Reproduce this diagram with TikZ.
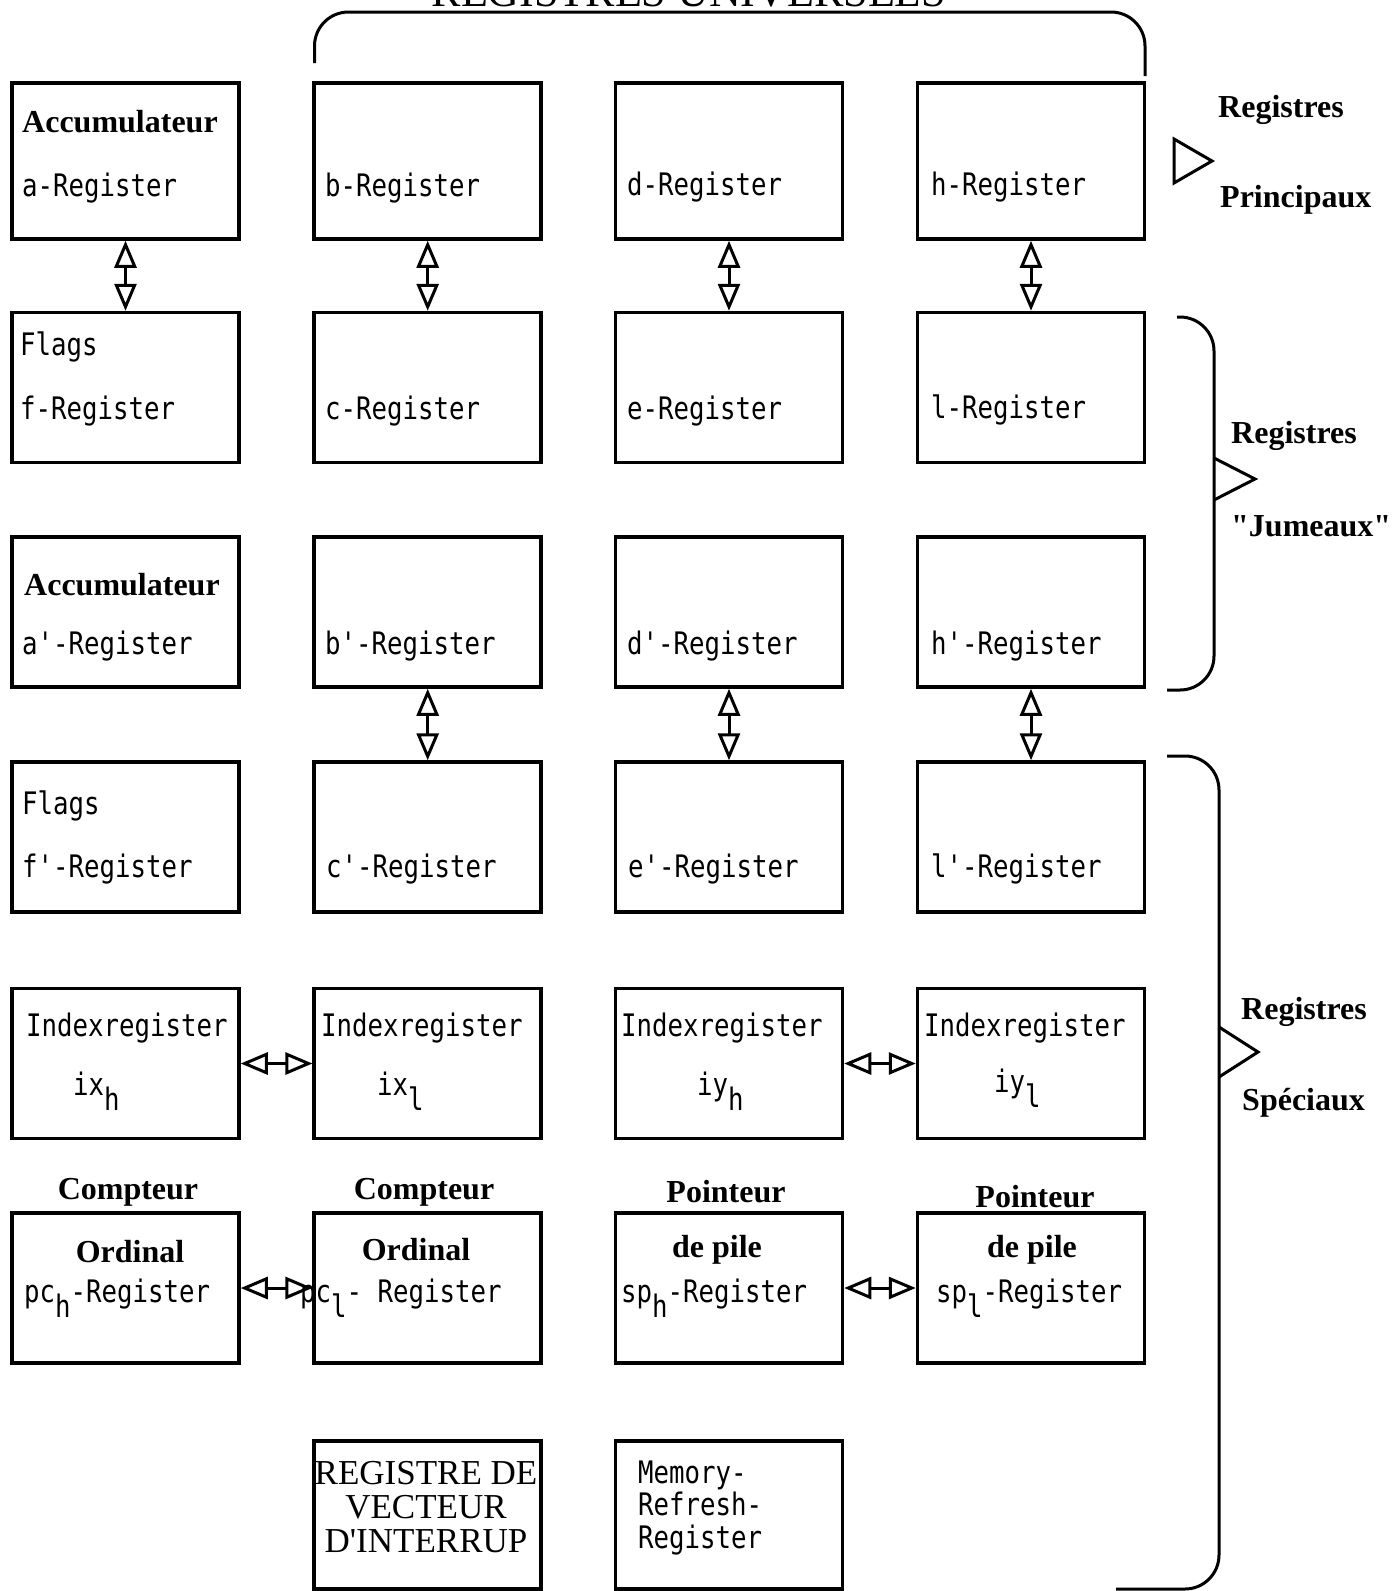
\documentclass[tikz,border=0pt]{standalone}
\usepackage{fontspec}
\setmainfont{Liberation Serif}[Ligatures=TeXOff]
\newfontfamily\regmono[FakeStretch=0.83]{DejaVu Sans Mono}
\usetikzlibrary{arrows.meta}
\newcommand{\lowr}[1]{\raisebox{-0.5em}{#1}}
\tikzset{
  rbox/.style={draw, line width=3.5pt, minimum width=227pt, minimum height=150pt, inner sep=0pt},
  mtxt/.style={anchor=west, inner sep=0pt, font=\regmono\fontsize{31}{33}\selectfont},
  btxt/.style={inner sep=0pt, font=\fontsize{32}{36}\selectfont\bfseries},
  stxt/.style={inner sep=0pt, align=center, font=\fontsize{35}{34}\selectfont},
  ttl/.style={anchor=base, inner sep=0pt, font=\fontsize{44}{46}\selectfont},
  dbl/.style={{Triangle[open, length=27pt, width=22pt]}-{Triangle[open, length=27pt, width=22pt]}, line width=3pt},
  brc/.style={line width=3pt, rounded corners=34pt},
  tip/.style={line width=3pt, line join=miter},
}
\begin{document}
\begin{tikzpicture}[x=1pt, y=-1pt]
\useasboundingbox (0,0) rectangle (1396,1591);
% registres universels
\node[ttl] (titre) at (689,6) {REGISTRES UNIVERSELS};
\draw[brc] (314.5,63) |- (1145,12) -- (1145,76);
% principaux
\node[rbox, minimum height=156pt] (acc) at (125.5,161) {};
\node[rbox, minimum height=156pt] (breg) at (427.7,161) {};
\node[rbox, minimum height=156pt] (dreg) at (729,161) {};
\node[rbox, minimum height=156pt] (hreg) at (1031,161) {};
\node[btxt, anchor=west] (t-acc) at (22,122) {Accumulateur};
\node[mtxt] (t-a) at (22,188) {a-Register};
\node[mtxt] (t-b) at (325,188) {b-Register};
\node[mtxt] (t-d) at (627,187) {d-Register};
\node[mtxt] (t-h) at (931,187) {h-Register};
\node[rbox] (flg) at (125.5,387.5) {};
\node[rbox] (creg) at (427.7,387.5) {};
\node[rbox] (ereg) at (729,387.5) {};
\node[rbox] (lreg) at (1031,387.5) {};
\node[mtxt] (t-flg) at (20,347) {Flags};
\node[mtxt] (t-f) at (20,411) {f-Register};
\node[mtxt] (t-c) at (325,411) {c-Register};
\node[mtxt] (t-e) at (627,411) {e-Register};
\node[mtxt] (t-l) at (931,410) {l-Register};
\draw[dbl] (acc.south) -- (flg.north);
\draw[dbl] (breg.south) -- (creg.north);
\draw[dbl] (dreg.south) -- (ereg.north);
\draw[dbl] (hreg.south) -- (lreg.north);
\draw[tip] (1174,139) -- (1212,161) -- (1174,183) -- cycle;
\node[btxt, anchor=west] (l-reg1) at (1218,110) {Registres};
\node[btxt, anchor=west] (l-princ) at (1220,200) {Principaux};
% jumeaux
\node[rbox] (accp) at (125.5,612) {};
\node[rbox] (bpreg) at (427.7,612) {};
\node[rbox] (dpreg) at (729,612) {};
\node[rbox] (hpreg) at (1031,612) {};
\node[btxt, anchor=west] (t-accp) at (24,585) {Accumulateur};
\node[mtxt] (t-ap) at (22,646) {a'-Register};
\node[mtxt] (t-bp) at (325,646) {b'-Register};
\node[mtxt] (t-dp) at (627,646) {d'-Register};
\node[mtxt] (t-hp) at (931,646) {h'-Register};
\node[rbox] (flgp) at (125.5,837) {};
\node[rbox] (cpreg) at (427.7,837) {};
\node[rbox] (epreg) at (729,837) {};
\node[rbox] (lpreg) at (1031,837) {};
\node[mtxt] (t-flgp) at (22,806) {Flags};
\node[mtxt] (t-fp) at (22,869) {f'-Register};
\node[mtxt] (t-cp) at (326,869) {c'-Register};
\node[mtxt] (t-ep) at (628,869) {e'-Register};
\node[mtxt] (t-lp) at (931,869) {l'-Register};
\draw[dbl] (bpreg.south) -- (cpreg.north);
\draw[dbl] (dpreg.south) -- (epreg.north);
\draw[dbl] (hpreg.south) -- (lpreg.north);
\draw[brc] (1177,317) -| (1214,480) |- (1167,690);
\draw[tip] (1214,458) -- (1255,479) -- (1214,500);
\node[btxt, anchor=west] (l-reg2) at (1231,436) {Registres};
\node[btxt, anchor=west] (l-jum) at (1231,526) {"Jumeaux"};
% speciaux
\node[rbox] (ixh) at (125.5,1063.5) {};
\node[rbox] (ixl) at (427.7,1063.5) {};
\node[rbox] (iyh) at (729,1063.5) {};
\node[rbox] (iyl) at (1031,1063.5) {};
\node[mtxt] (t-ix1) at (26,1028) {Indexregister};
\node[mtxt] (t-ix2) at (321,1028) {Indexregister};
\node[mtxt] (t-iy1) at (621,1028) {Indexregister};
\node[mtxt] (t-iy2) at (924,1028) {Indexregister};
\node[mtxt] (t-ixh) at (73,1091) {ix\lowr{h}};
\node[mtxt] (t-ixl) at (377,1091) {ix\lowr{l}};
\node[mtxt] (t-iyh) at (697,1091) {iy\lowr{h}};
\node[mtxt] (t-iyl) at (994,1088) {iy\lowr{l}};
\draw[dbl] (ixh.east) -- (ixl.west);
\draw[dbl] (iyh.east) -- (iyl.west);
\node[rbox] (pch) at (125.5,1288) {};
\node[rbox] (pcl) at (427.7,1288) {};
\node[rbox] (sph) at (729,1288) {};
\node[rbox] (spl) at (1031,1288) {};
\node[btxt] (t-cpt1) at (128,1192) {Compteur};
\node[btxt] (t-cpt2) at (424,1192) {Compteur};
\node[btxt] (t-pnt1) at (726,1192) {Pointeur};
\node[btxt] (t-pnt2) at (1035,1197) {Pointeur};
\node[btxt] (t-ord1) at (130,1252) {Ordinal};
\node[btxt] (t-ord2) at (416,1250) {Ordinal};
\node[btxt] (t-pile1) at (717,1250) {de pile};
\node[btxt] (t-pile2) at (1032,1250) {de pile};
\node[mtxt] (t-pch) at (24,1298) {pc\lowr{h}-Register};
\node[mtxt] (t-pcl) at (300,1298) {pc\lowr{l}- Register};
\node[mtxt] (t-sph) at (621,1298) {sp\lowr{h}-Register};
\node[mtxt] (t-spl) at (936,1298) {sp\lowr{l}-Register};
\draw[dbl] (pch.east) -- (pcl.west);
\draw[dbl] (sph.east) -- (spl.west);
\node[rbox, minimum height=148pt] (ivec) at (427.7,1515) {};
\node[rbox, minimum height=148pt] (mref) at (729,1515) {};
\node[stxt] (t-ivec) at (426,1507) {REGISTRE DE\\VECTEUR\\D'INTERRUP};
\node[mtxt, align=left, font=\regmono\fontsize{31}{32.5}\selectfont] (t-mref) at (638,1508) {Memory-\\Refresh-\\Register};
\draw[brc] (1167,756) -| (1219,1052) |- (1116,1589);
\draw[tip] (1219,1027) -- (1258,1052) -- (1219,1077);
\node[btxt, anchor=west] (l-reg3) at (1241,1012) {Registres};
\node[btxt, anchor=west] (l-spec) at (1242,1103) {Spéciaux};
\end{tikzpicture}
\end{document}
